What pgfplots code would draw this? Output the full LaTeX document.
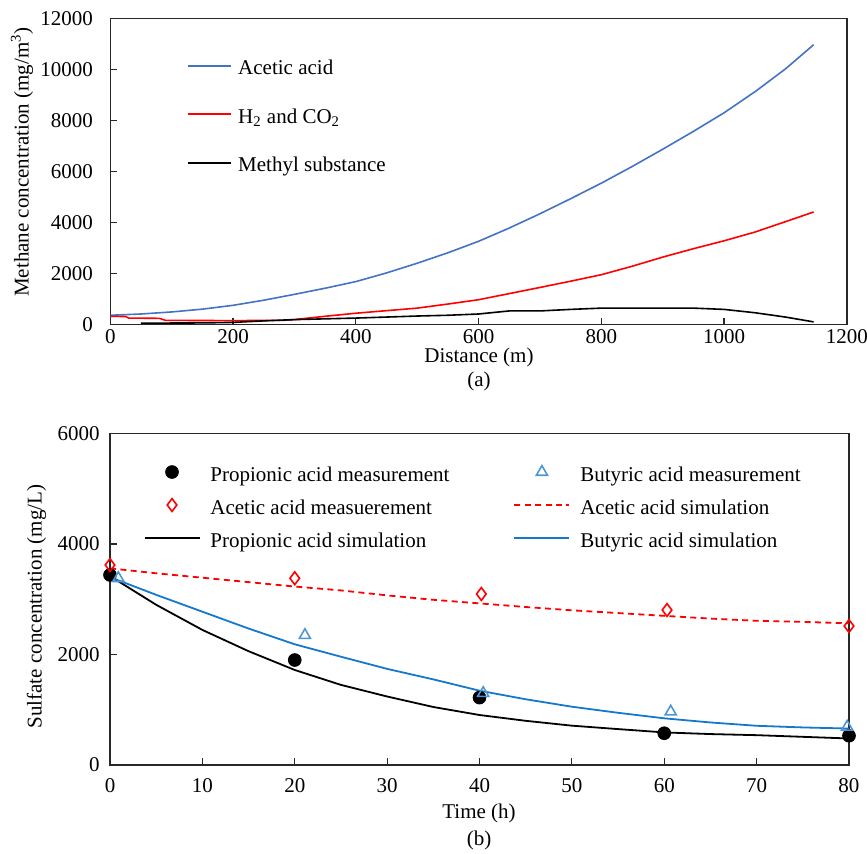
\documentclass[border=0pt]{standalone}
\usepackage{fontspec}
\setmainfont{Liberation Serif}
\usepackage{pgfplots}
\pgfplotsset{compat=1.18}
\definecolor{blueA}{RGB}{68,114,196}
\definecolor{blueB}{RGB}{20,120,205}
\definecolor{blueT}{RGB}{80,150,215}
\definecolor{axgray}{RGB}{40,40,40}

\begin{document}
\fontsize{10.5}{12.6}\selectfont
\begin{tikzpicture}[font=\fontsize{10.5}{12.6}\selectfont]
\useasboundingbox (0,0) rectangle (433.5pt,426.5pt);
\pgfplotsset{
  myaxis/.style={
    scale only axis,
    axis line style={line width=0.7pt, axgray},
    tick align=inside, xtick pos=left, ytick pos=left,
    major tick length=3.5pt,
    tick style={axgray, line width=0.6pt},
    scaled ticks=false,
    /pgf/number format/assume math mode=true,
    /pgf/number format/set thousands separator={},
    ticklabel style={font=\fontsize{10.5}{12.6}\selectfont},
    legend cell align=left,
  }
}
% ---------------- (a) ----------------
\begin{axis}[myaxis,
  at={(55.15pt,264.15pt)}, anchor=south west,
  width=368.25pt, height=153pt,
  xmin=0, xmax=1200, ymin=0, ymax=12000,
  xtick={0,200,...,1200}, ytick={0,2000,...,12000},
  yticklabel style={xshift=-5pt},
  xticklabel style={inner sep=1pt, yshift=-1pt},
  legend style={at={(0.105,0.8823)}, anchor=north west, draw=none, fill=none,
    inner sep=0pt, outer sep=0pt, row sep=13.25pt,
    nodes={inner sep=0pt, text height=10pt, text depth=1pt}},
  legend image code/.code={\draw[#1] (0pt,0pt) -- (21.5pt,0pt); \path (24.5pt,0pt);},
]
\addplot[blueA, line width=0.8pt] coordinates {
(0,370) (50,420) (100,500) (150,610) (200,760) (250,960) (300,1190) (350,1430)
(400,1690) (450,2030) (500,2410) (550,2820) (600,3270) (650,3790) (700,4350)
(750,4940) (800,5550) (850,6200) (900,6880) (950,7580) (1000,8310) (1050,9130)
(1100,10030) (1146,10980)};
\addlegendentry{Acetic acid}
\addplot[red, line width=0.8pt] coordinates {
(0,330) (25,320) (30,260) (80,250) (90,170) (200,160) (280,170) (300,200)
(350,330) (400,450) (450,550) (500,650) (550,810) (600,980) (650,1220)
(700,1460) (750,1706) (800,1960) (850,2290) (900,2650) (950,2980) (1000,3290)
(1050,3630) (1100,4040) (1146,4420)};
\addlegendentry{H\textsubscript{2} and CO\textsubscript{2}}
\addplot[black, line width=0.8pt] coordinates {
(50,60) (150,70) (200,90) (250,150) (300,200) (350,230) (400,260) (450,300)
(500,340) (550,370) (600,420) (650,540) (700,540) (750,600) (800,650) (850,650)
(900,650) (950,650) (1000,600) (1050,470) (1100,300) (1146,110)};
\addlegendentry{Methyl substance}
\end{axis}
% ---------------- (b) ----------------
\begin{axis}[myaxis,
  at={(55pt,44pt)}, anchor=south west,
  width=369.5pt, height=165.75pt,
  xmin=0, xmax=80, ymin=0, ymax=6000,
  xtick={0,10,...,80}, ytick={0,2000,...,6000},
  yticklabel style={xshift=-1.5pt},
  xticklabel style={yshift=-3pt},
  legend columns=2,
  legend style={at={(0.0455,0.917)}, anchor=north west, draw=none, fill=none,
    inner sep=0pt, outer sep=0pt, row sep=5.5pt,
    nodes={inner sep=0pt, text height=10pt, text depth=1pt},
    /tikz/every even column/.append style={column sep=32pt}},
  legend image code/.code={\draw[mark repeat=2,mark phase=2,#1] plot coordinates {(0pt,0pt) (13.75pt,0pt) (27.5pt,0pt)}; \path (32.5pt,0pt);},
]
\addplot[only marks, mark=*, mark size=3.2pt, black] coordinates {
(0,3440) (20,1900) (40,1220) (60,575) (80,530)};
\addlegendentry{Propionic acid measurement}
\addplot[only marks, mark=triangle, mark size=3.2pt, blueT, mark options={line width=0.8pt}] coordinates {
(0.9,3380) (21.1,2350) (40.4,1300) (60.7,965) (79.8,690)};
\addlegendentry{Butyric acid measurement}
\addplot[only marks, mark=diamond, mark size=3.2pt, red, mark options={line width=0.8pt}] coordinates {
(0,3620) (20,3380) (40.2,3095) (60.3,2805) (80,2515)};
\addlegendentry{Acetic acid measuerement}
\addplot[red, line width=0.9pt, dash pattern=on 3pt off 2.2pt] coordinates {
(0,3560) (5,3470) (10,3390) (15,3310) (20,3230) (25,3160) (30,3070) (35,2990)
(40,2925) (45,2860) (50,2800) (55,2750) (60,2700) (65,2650) (70,2610) (75,2590) (80,2565)};
\addlegendentry{Acetic acid simulation}
\addplot[black, line width=0.9pt] coordinates {
(0,3420) (5,2900) (10,2445) (15,2060) (20,1720) (25,1450) (30,1240) (35,1050)
(40,905) (45,800) (50,712) (55,650) (60,590) (65,560) (70,540) (75,510) (80,480)};
\addlegendentry{Propionic acid simulation}
\addplot[blueB, line width=0.9pt] coordinates {
(0,3400) (5,3080) (10,2775) (15,2470) (20,2185) (25,1960) (30,1740) (35,1550)
(40,1345) (45,1190) (50,1055) (55,945) (60,845) (65,770) (70,710) (75,680) (80,660)};
\addlegendentry{Butyric acid simulation}
\end{axis}
% labels
\node[rotate=90] at (11pt,345.5pt) {Methane concentration (mg/m\textsuperscript{3})};
\node[inner sep=0pt] at (239.5pt,248pt) {Distance (m)};
\node[inner sep=0pt] at (239.5pt,236pt) {(a)};
\node[rotate=90] at (18.3pt,123.25pt) {Sulfate concentration (mg/L)};
\node at (239.5pt,20pt) {Time (h)};
\node at (239.5pt,6.5pt) {(b)};
\end{tikzpicture}
\end{document}
